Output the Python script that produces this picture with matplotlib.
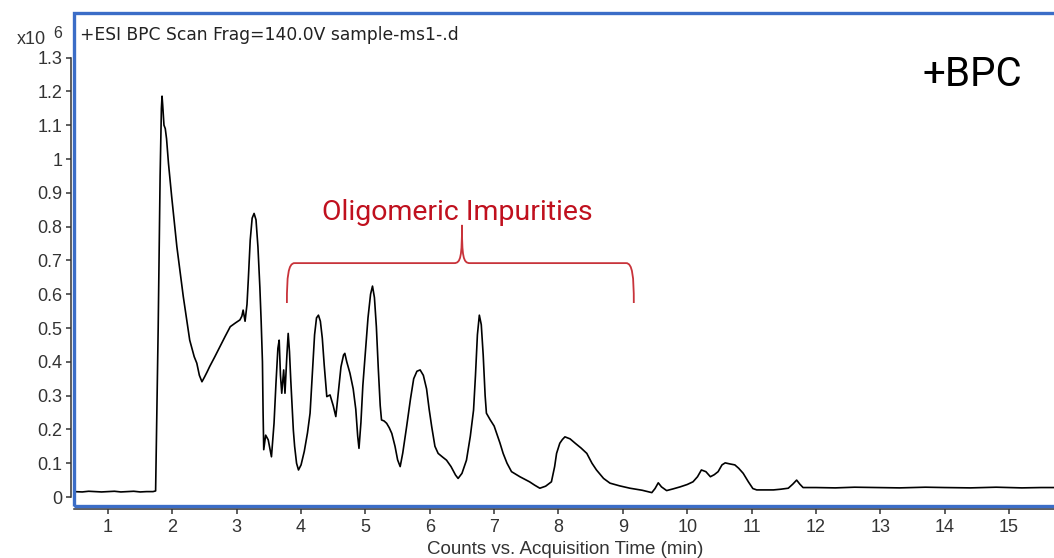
import matplotlib
matplotlib.use("Agg")
import matplotlib.pyplot as plt
from matplotlib.patches import Rectangle, PathPatch
from matplotlib.path import Path

# ---------------- data (time in min, intensity in 10^6 counts) ----------------
time_min = [0.47, 0.6, 0.7, 0.8, 0.9, 1.0, 1.1, 1.2, 1.3, 1.4, 1.5, 1.6, 1.7, 1.74,
            1.76, 1.78, 1.81, 1.83, 1.84, 1.85, 1.87, 1.89, 1.91, 1.94, 1.99, 2.07,
            2.17, 2.27, 2.34, 2.38, 2.42, 2.46, 2.50, 2.54, 2.58, 2.66, 2.74, 2.82,
            2.90, 2.98, 3.05, 3.08, 3.10, 3.13, 3.16, 3.18, 3.21, 3.24, 3.27, 3.30,
            3.33, 3.36, 3.38, 3.40, 3.41, 3.42, 3.45, 3.49, 3.54, 3.58, 3.61, 3.64,
            3.66, 3.68, 3.70, 3.73, 3.75, 3.78, 3.80, 3.82, 3.84, 3.88, 3.90, 3.93,
            3.96, 4.00, 4.05, 4.10, 4.14, 4.18, 4.21, 4.24, 4.27, 4.30, 4.33, 4.36,
            4.40, 4.45, 4.50, 4.54, 4.58, 4.62, 4.66, 4.68, 4.71, 4.76, 4.81, 4.85,
            4.88, 4.90, 4.93, 4.96, 5.00, 5.04, 5.08, 5.11, 5.14, 5.17, 5.20, 5.23,
            5.25, 5.29, 5.33, 5.37, 5.41, 5.46, 5.50, 5.54, 5.58, 5.64, 5.70, 5.75,
            5.80, 5.85, 5.90, 5.95, 5.99, 6.03, 6.08, 6.13, 6.20, 6.26, 6.33, 6.40,
            6.44, 6.50, 6.57, 6.63, 6.68, 6.71, 6.74, 6.77, 6.80, 6.83, 6.86, 6.88,
            6.94, 7.00, 7.04, 7.09, 7.14, 7.20, 7.27, 7.33, 7.40, 7.48, 7.55, 7.63,
            7.71, 7.80, 7.89, 7.94, 7.97, 8.02, 8.06, 8.10, 8.18, 8.26, 8.35, 8.44,
            8.52, 8.59, 8.70, 8.80, 8.95, 9.11, 9.30, 9.45, 9.50, 9.55, 9.60, 9.68,
            9.78, 9.89, 10.00, 10.09, 10.16, 10.22, 10.29, 10.36, 10.42, 10.48,
            10.54, 10.59, 10.66, 10.74, 10.80, 10.87, 10.95, 11.02, 11.08, 11.20,
            11.34, 11.45, 11.57, 11.64, 11.70, 11.75, 11.80, 12.0, 12.3, 12.6,
            13.0, 13.3, 13.7, 14.0, 14.4, 14.8, 15.2, 15.5, 15.73]
intensity_1e6 = [0.016, 0.015, 0.017, 0.016, 0.015, 0.016, 0.017, 0.015, 0.016, 0.017, 0.015, 0.016, 0.016, 0.018,
                 0.25, 0.50, 0.95, 1.15, 1.186, 1.16, 1.10, 1.09, 1.06, 0.987, 0.888, 0.741,
                 0.593, 0.464, 0.415, 0.396, 0.36, 0.341, 0.355, 0.37, 0.386, 0.415, 0.445, 0.475,
                 0.504, 0.515, 0.524, 0.535, 0.553, 0.520, 0.57, 0.642, 0.76, 0.825, 0.839, 0.82,
                 0.74, 0.62, 0.52, 0.40, 0.25, 0.14, 0.183, 0.169, 0.119, 0.218, 0.336, 0.44,
                 0.464, 0.36, 0.307, 0.376, 0.307, 0.42, 0.484, 0.43, 0.346, 0.198, 0.15, 0.10,
                 0.080, 0.095, 0.135, 0.19, 0.248, 0.38, 0.48, 0.53, 0.538, 0.52, 0.47, 0.39,
                 0.297, 0.302, 0.27, 0.238, 0.31, 0.385, 0.42, 0.425, 0.40, 0.366, 0.32, 0.26,
                 0.18, 0.144, 0.22, 0.33, 0.43, 0.53, 0.60, 0.624, 0.59, 0.504, 0.38, 0.27,
                 0.228, 0.225, 0.218, 0.205, 0.188, 0.15, 0.11, 0.09, 0.13, 0.208, 0.29, 0.35,
                 0.372, 0.376, 0.36, 0.32, 0.26, 0.208, 0.15, 0.129, 0.118, 0.109, 0.09, 0.065,
                 0.055, 0.07, 0.109, 0.18, 0.257, 0.36, 0.48, 0.538, 0.51, 0.42, 0.30, 0.248,
                 0.228, 0.21, 0.188, 0.16, 0.129, 0.10, 0.075, 0.068, 0.060, 0.052, 0.045, 0.035,
                 0.026, 0.032, 0.045, 0.09, 0.129, 0.159, 0.17, 0.178, 0.172, 0.159, 0.145, 0.129,
                 0.10, 0.080, 0.055, 0.041, 0.033, 0.026, 0.020, 0.013, 0.025, 0.042, 0.030, 0.019,
                 0.024, 0.030, 0.037, 0.045, 0.060, 0.080, 0.075, 0.060, 0.066, 0.075,
                 0.095, 0.101, 0.098, 0.095, 0.085, 0.070, 0.045, 0.025, 0.021, 0.021,
                 0.021, 0.023, 0.026, 0.038, 0.050, 0.038, 0.028, 0.028, 0.027, 0.029,
                 0.028, 0.027, 0.029, 0.028, 0.027, 0.029, 0.027, 0.028, 0.028]

x_ticks = list(range(1, 16))
y_ticks = [0, 0.1, 0.2, 0.3, 0.4, 0.5, 0.6, 0.7, 0.8, 0.9, 1.0, 1.1, 1.2, 1.3]
y_tick_labels = ["0", "0.1", "0.2", "0.3", "0.4", "0.5", "0.6", "0.7", "0.8",
                 "0.9", "1", "1.1", "1.2", "1.3"]

title_text = "+ESI BPC Scan Frag=140.0V sample-ms1-.d"
xlabel_text = "Counts vs. Acquisition Time (min)"
badge_text = "+BPC"
annot_text = "Oligomeric Impurities"

# brace annotation span (data units)
brace_x_left, brace_x_mid, brace_x_right = 3.78, 6.50, 9.17
brace_y_foot, brace_y_bar, brace_y_tip = 0.574, 0.692, 0.805

# ---------------- figure ----------------
W, H = 1054, 558
fig = plt.figure(figsize=(W / 100, H / 100), dpi=100)
plt.rcParams['font.family'] = ['Liberation Sans', 'DejaVu Sans']

def px(x, y):
    return x / W, 1 - y / H

ax = fig.add_axes([74 / W, 1 - 506 / H, (1056 - 74) / W, (506 - 13) / H])
ax.set_xlim(0.472, 15.73)
ax.set_ylim(-0.0266, 1.432)

ax.plot(time_min, intensity_1e6, color='black', lw=1.2, solid_joinstyle='round')

blue = '#3b6dc7'
for s in ['top', 'right']:
    ax.spines[s].set_visible(False)
for s in ['left', 'bottom']:
    ax.spines[s].set_color('#333333')
    ax.spines[s].set_linewidth(1.1)
    ax.spines[s].set_position(('outward', 2.5))
ax.spines['left'].set_bounds(0, 1.3)
ax.add_patch(Rectangle((0, 0), 1, 1, transform=ax.transAxes, fill=False,
                       edgecolor=blue, lw=2.4, clip_on=False, zorder=5))

ax.set_xticks(x_ticks)
ax.set_yticks(y_ticks)
ax.set_yticklabels(y_tick_labels)
ax.tick_params(axis='both', direction='out', length=3.8, width=1.1,
               color='#333333', labelsize=13, labelcolor='#333333')
ax.tick_params(axis='y', pad=2.0)
ax.tick_params(axis='x', pad=3.0)

fig.text(*px(565, 549), xlabel_text, ha='center', va='center',
         fontsize=13.5, color='#333333')
fig.text(*px(80, 35), title_text, ha='left', va='center', fontsize=12.3,
         color='#222222', family=['DejaVu Sans'])
fig.text(*px(31, 40), "x10", ha='center', va='center', fontsize=13,
         color='#333333')
fig.text(*px(58, 33), "6", ha='center', va='center', fontsize=11.5,
         color='#333333')

cond = ['Liberation Sans Narrow', 'Roboto', 'DejaVu Sans']
fig.text(*px(972, 75), badge_text, ha='center', va='center', fontsize=29,
         family=cond, color='black')

red = '#c0101e'
ax.text((brace_x_left + brace_x_right) / 2 - 0.05, 0.843, annot_text,
        ha='center', va='center', fontsize=20.5, family=cond, color=red)

# brace drawn as a bezier path in data coordinates
r = 0.12
ry = 0.04
verts = [
    (brace_x_left, brace_y_foot),
    (brace_x_left, brace_y_bar - ry), (brace_x_left + 0.02, brace_y_bar), (brace_x_left + r, brace_y_bar),
    (brace_x_mid - r, brace_y_bar),
    (brace_x_mid - 0.02, brace_y_bar), (brace_x_mid, brace_y_bar + 0.02), (brace_x_mid, brace_y_tip),
    (brace_x_mid, brace_y_bar + 0.02), (brace_x_mid + 0.02, brace_y_bar), (brace_x_mid + r, brace_y_bar),
    (brace_x_right - r, brace_y_bar),
    (brace_x_right - 0.02, brace_y_bar), (brace_x_right, brace_y_bar - ry), (brace_x_right, brace_y_foot),
]
codes = [Path.MOVETO, Path.CURVE4, Path.CURVE4, Path.CURVE4, Path.LINETO,
         Path.CURVE4, Path.CURVE4, Path.CURVE4, Path.CURVE4, Path.CURVE4, Path.CURVE4,
         Path.LINETO, Path.CURVE4, Path.CURVE4, Path.CURVE4]
ax.add_patch(PathPatch(Path(verts, codes), fill=False, edgecolor='#c8333a', lw=1.3))

fig.savefig('out.png', dpi=100)
